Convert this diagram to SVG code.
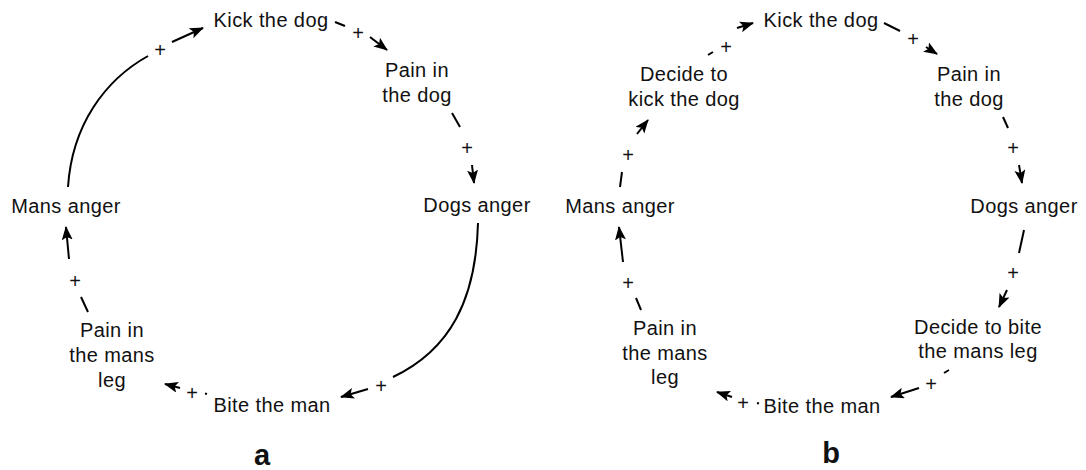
<svg xmlns="http://www.w3.org/2000/svg" width="1086" height="470" viewBox="0 0 1086 470">
<style>
.n{font-family:"Liberation Sans",Arial,sans-serif;font-size:20px;letter-spacing:0.4px;fill:#111;text-anchor:middle}
.p{font-family:"Liberation Sans",Arial,sans-serif;font-size:20px;fill:#111;text-anchor:middle}
.lbl{font-family:"Liberation Sans",Arial,sans-serif;font-size:29px;font-weight:bold;fill:#111;text-anchor:middle}
.c{fill:none;stroke:#000;stroke-width:2}
.a{fill:none;stroke:#000;stroke-width:2;marker-end:url(#ah)}
</style>
<defs>
<marker id="ah" markerUnits="userSpaceOnUse" markerWidth="16" markerHeight="12" refX="13" refY="5.5" orient="auto">
<path d="M0,0 L14,5.5 L0,11 L3,5.5 z" fill="#000"/>
</marker>
</defs>
<rect width="1086" height="470" fill="#fff"/>
<g id="connectors">
<path class="c" d="M68,187 C72,125 105,80 148,56"/>
<path class="a" d="M172,42 L203,28"/>
<path class="c" d="M335,22 L345,26"/>
<path class="a" d="M370,37 L387,50"/>
<path class="c" d="M452,113 L460,127"/>
<path class="a" d="M472,165 L474,183"/>
<path class="c" d="M478,223 C476,300 450,350 393,377"/>
<path class="a" d="M368,389 L341,397"/>
<path class="c" d="M207,394 L205,393.5"/>
<path class="a" d="M180,388 L165,384"/>
<path class="c" d="M88,312 L81,297"/>
<path class="a" d="M69,259 L66,227"/>
<path class="c" d="M620,187 L622,172"/>
<path class="a" d="M637,134 L648,120"/>
<path class="c" d="M708,55 L713,52"/>
<path class="a" d="M737,28 L753,23"/>
<path class="c" d="M884,23 L900,31"/>
<path class="a" d="M926,47 L937,54"/>
<path class="c" d="M1003,117 L1008,128"/>
<path class="a" d="M1019,165 L1022,183"/>
<path class="c" d="M1024,230 L1019,253"/>
<path class="a" d="M1007,290 L999,307"/>
<path class="c" d="M949,370 L944,373"/>
<path class="a" d="M919,388 L891,397"/>
<path class="c" d="M759,403.5 L757,403"/>
<path class="a" d="M732,397 L717,392"/>
<path class="c" d="M641,310 L636,298"/>
<path class="a" d="M623,262 L619,227"/>
<text class="p" x="160" y="57">+</text>
<text class="p" x="358" y="40">+</text>
<text class="p" x="467" y="155">+</text>
<text class="p" x="381" y="393">+</text>
<text class="p" x="192" y="400">+</text>
<text class="p" x="75" y="288">+</text>
<text class="p" x="628" y="162">+</text>
<text class="p" x="726" y="54">+</text>
<text class="p" x="913" y="46">+</text>
<text class="p" x="1013" y="155">+</text>
<text class="p" x="1013" y="280">+</text>
<text class="p" x="931" y="391">+</text>
<text class="p" x="743" y="410">+</text>
<text class="p" x="628" y="290">+</text>
</g>
<g id="a-kick"><text class="n" x="271" y="27">Kick the dog</text></g>
<g id="a-pain-dog"><text class="n" x="417" y="77">Pain in</text><text class="n" x="417" y="102">the dog</text></g>
<g id="a-dogs-anger"><text class="n" x="477" y="212">Dogs anger</text></g>
<g id="a-bite"><text class="n" x="272" y="412">Bite the man</text></g>
<g id="a-pain-leg"><text class="n" x="112" y="337">Pain in</text><text class="n" x="112" y="362">the mans</text><text class="n" x="112" y="387">leg</text></g>
<g id="a-mans-anger"><text class="n" x="66" y="213">Mans anger</text></g>
<g id="b-kick"><text class="n" x="821" y="27">Kick the dog</text></g>
<g id="b-pain-dog"><text class="n" x="969" y="81">Pain in</text><text class="n" x="969" y="106">the dog</text></g>
<g id="b-dogs-anger"><text class="n" x="1024" y="213">Dogs anger</text></g>
<g id="b-decide-bite"><text class="n" x="978" y="334">Decide to bite</text><text class="n" x="978" y="358">the mans leg</text></g>
<g id="b-bite"><text class="n" x="822" y="413">Bite the man</text></g>
<g id="b-pain-leg"><text class="n" x="665" y="335">Pain in</text><text class="n" x="665" y="360">the mans</text><text class="n" x="665" y="384">leg</text></g>
<g id="b-mans-anger"><text class="n" x="620" y="213">Mans anger</text></g>
<g id="b-decide-kick"><text class="n" x="684" y="81">Decide to</text><text class="n" x="684" y="106">kick the dog</text></g>
<g id="labels"><text class="lbl" x="262" y="465">a</text><text class="lbl" x="831" y="463">b</text></g>
</svg>
